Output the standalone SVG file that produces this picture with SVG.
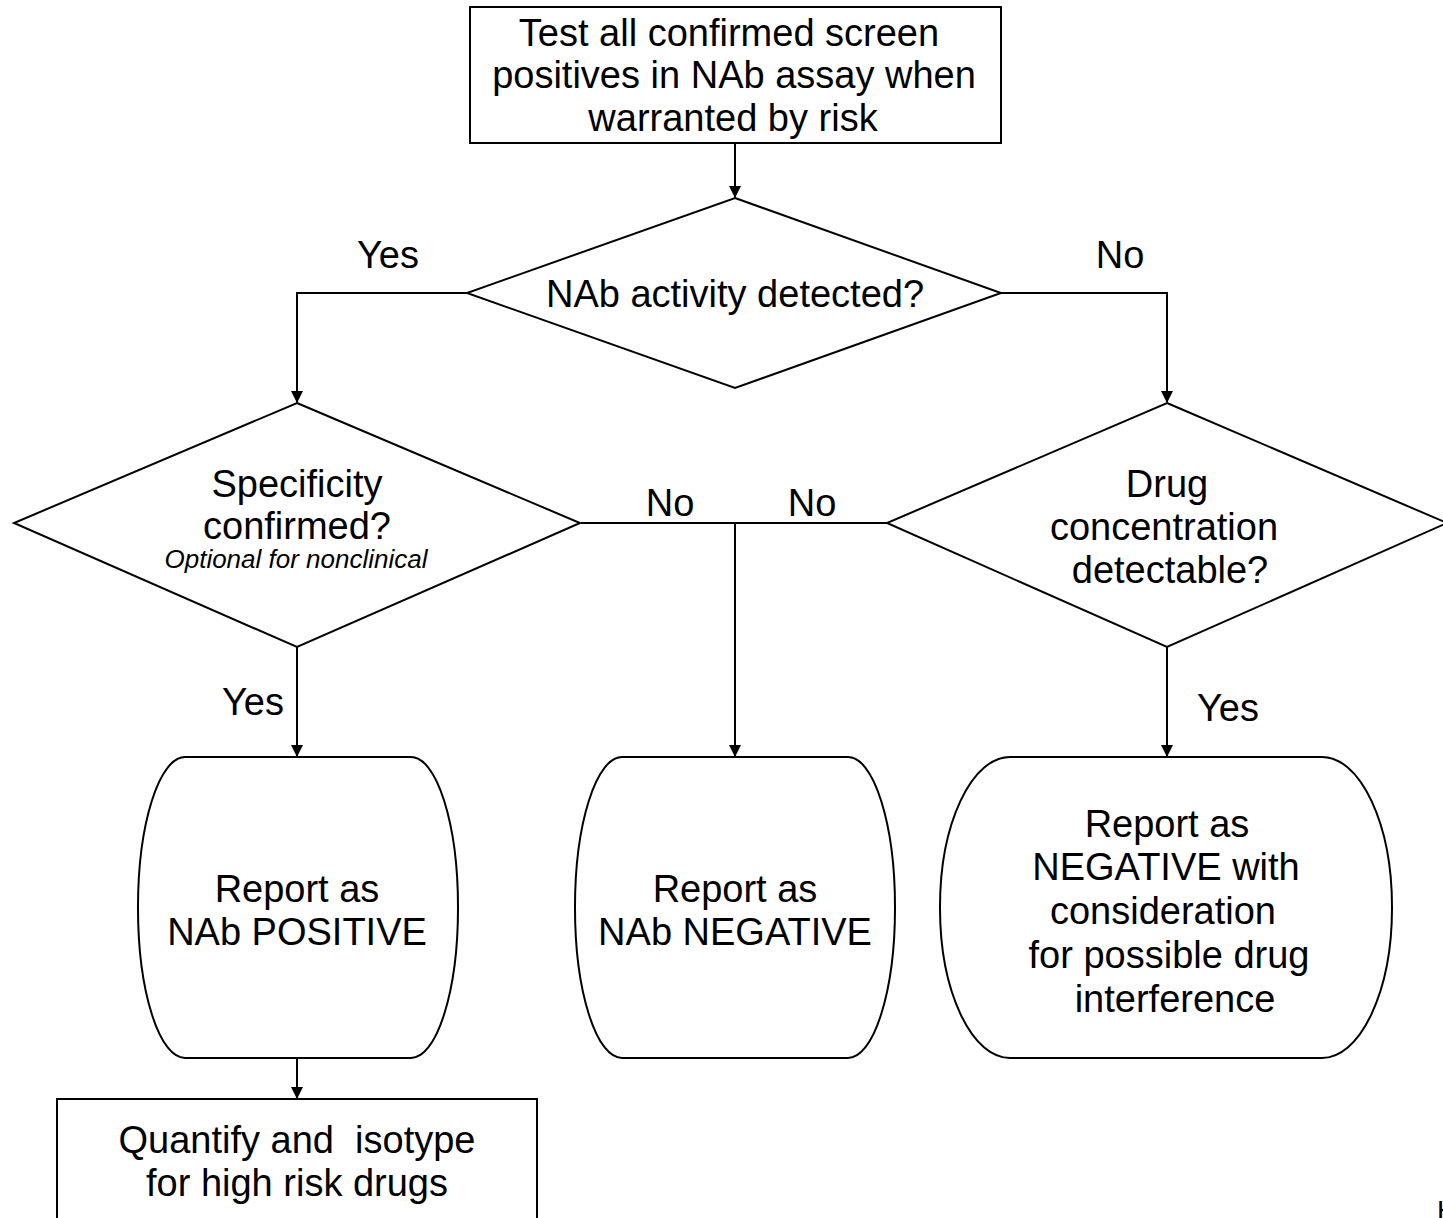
<svg xmlns="http://www.w3.org/2000/svg" width="1443" height="1218" viewBox="0 0 1443 1218">
<style>
.s{fill:#fff;stroke:#000;stroke-width:2}
.t{font-family:"Liberation Sans",Arial,sans-serif;font-size:38px;fill:#000;text-anchor:middle}
.i{font-family:"Liberation Sans",Arial,sans-serif;font-size:26px;font-style:italic;fill:#000;text-anchor:middle}
.c{fill:none;stroke:#000;stroke-width:2}
</style>
<defs>
<marker id="ah" markerWidth="12" markerHeight="12" refX="11" refY="6" orient="auto" markerUnits="userSpaceOnUse">
<path d="M0,0 L12,6 L0,12 Z" fill="#000"/>
</marker>
</defs>
<rect width="1443" height="1218" fill="#fff"/>
<g id="connectors">
<path class="c" d="M735,143 V197" marker-end="url(#ah)"/>
<path class="c" d="M467,293 H297 V402" marker-end="url(#ah)"/>
<path class="c" d="M1001,293 H1167 V402" marker-end="url(#ah)"/>
<path class="c" d="M581,523 H887"/>
<path class="c" d="M735,523 V756" marker-end="url(#ah)"/>
<path class="c" d="M297,647 V756" marker-end="url(#ah)"/>
<path class="c" d="M1167,647 V756" marker-end="url(#ah)"/>
<path class="c" d="M297,1058 V1098" marker-end="url(#ah)"/>
<text class="t" x="388" y="268">Yes</text>
<text class="t" x="1120" y="268">No</text>
<text class="t" x="670" y="516">No</text>
<text class="t" x="812" y="516">No</text>
<text class="t" x="253" y="715">Yes</text>
<text class="t" x="1228" y="721">Yes</text>
</g>
<g id="start">
<rect class="s" x="470" y="7" width="531" height="136"/>
<text class="t" x="729" y="46">Test all confirmed screen</text>
<text class="t" x="734" y="88">positives in NAb assay when</text>
<text class="t" x="733" y="131">warranted by risk</text>
</g>
<g id="nab-detected">
<polygon class="s" points="735,198 1001,293 735,388 467,293"/>
<text class="t" x="735" y="307">NAb activity detected?</text>
</g>
<g id="specificity">
<polygon class="s" points="297,403 580,523 297,647 14,523"/>
<text class="t" x="297" y="497">Specificity</text>
<text class="t" x="297" y="539">confirmed?</text>
<text class="i" x="296" y="568">Optional for nonclinical</text>
</g>
<g id="drug-conc">
<polygon class="s" points="1167,403 1447,523 1167,647 887,523"/>
<text class="t" x="1167" y="497">Drug</text>
<text class="t" x="1164" y="540">concentration</text>
<text class="t" x="1170" y="583">detectable?</text>
</g>
<g id="positive">
<rect class="s" x="138" y="757" width="320" height="301" rx="47" ry="150"/>
<text class="t" x="297" y="902">Report as</text>
<text class="t" x="297" y="945">NAb POSITIVE</text>
</g>
<g id="negative">
<rect class="s" x="575" y="757" width="320" height="301" rx="47" ry="150"/>
<text class="t" x="735" y="902">Report as</text>
<text class="t" x="735" y="945">NAb NEGATIVE</text>
</g>
<g id="negative-drug">
<rect class="s" x="940" y="757" width="452" height="301" rx="70" ry="150"/>
<text class="t" x="1167" y="837">Report as</text>
<text class="t" x="1166" y="880">NEGATIVE with</text>
<text class="t" x="1163" y="924">consideration</text>
<text class="t" x="1169" y="968">for possible drug</text>
<text class="t" x="1175" y="1012">interference</text>
</g>
<g id="quantify">
<rect class="s" x="57" y="1099" width="480" height="130"/>
<text class="t" x="297" y="1153" xml:space="preserve">Quantify and  isotype</text>
<text class="t" x="297" y="1196">for high risk drugs</text>
</g>
<text x="1437" y="1220" style="font-family:'Liberation Sans',Arial,sans-serif;font-size:28px">H</text>
</svg>
